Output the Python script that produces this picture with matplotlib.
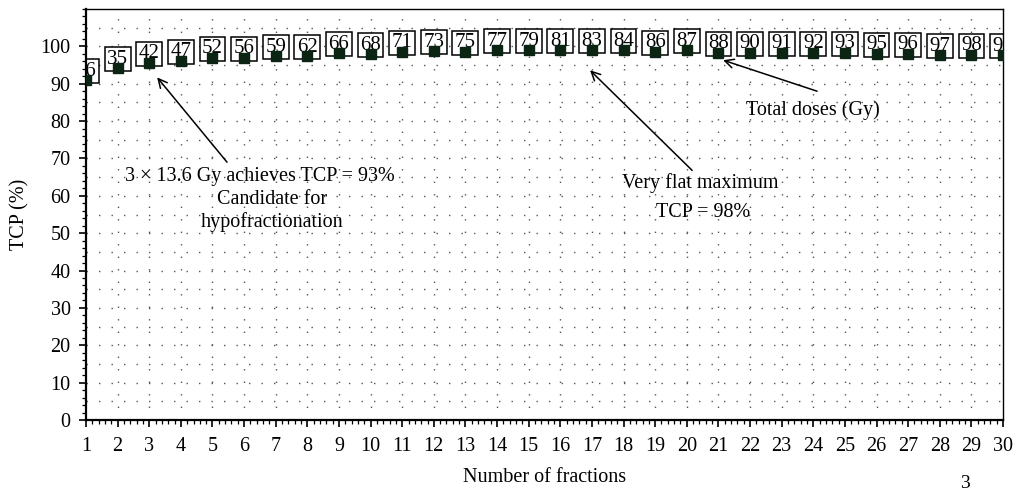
import numpy as np
import matplotlib
matplotlib.use("Agg")
import matplotlib.pyplot as plt

plt.rcParams['font.family'] = ['Liberation Serif', 'DejaVu Serif']

# data
fractions = list(range(1, 31))
tcp = [90.9, 94.1, 95.6, 96.1, 97.0, 97.0, 97.4, 97.4, 98.1, 97.9,
       98.5, 98.7, 98.5, 99.0, 98.9, 99.0, 99.0, 98.9, 98.6, 98.9,
       98.3, 98.3, 98.3, 98.3, 98.3, 98.0, 98.0, 97.6, 97.7, 97.6]
doses = [26, 35, 42, 47, 52, 56, 59, 62, 66, 68,
         71, 73, 75, 77, 79, 81, 83, 84, 86, 87,
         88, 90, 91, 92, 93, 95, 96, 97, 98, 99]

fig = plt.figure(figsize=(10.16, 4.9), dpi=100)
ax = fig.add_axes([86/1016, 1 - 420/490, 917/1016, 411/490])
ax.set_xlim(1, 30)
ax.set_ylim(0, 110)

# dotted grid
gridStyle = dict(color='#555555', linewidth=1.0, linestyle=(0, (1, 8)), zorder=0)
for gx in range(2, 30):
    ax.axvline(gx, **gridStyle)
for gy in range(5, 110, 5):
    ax.axhline(gy, **gridStyle)

ax.plot(fractions, tcp, linestyle='none', marker='s', markersize=7,
        color='#0b2414', zorder=3)

for f, t, d in zip(fractions, tcp, doses):
    ax.annotate(str(d), (f, t), xytext=(0, 9), textcoords='offset pixels',
                ha='center', va='center', fontsize=15, annotation_clip=False,
                clip_on=True, zorder=2,
                bbox=dict(boxstyle='square,pad=0.12', fc='white', ec='black', lw=1.1))

arrow = dict(arrowstyle='->', color='black', lw=1.1, mutation_scale=16, shrinkA=0, shrinkB=0)
ax.annotate('', xy=(3.25, 91.7), xytext=(5.46, 69.0), arrowprops=arrow)
ax.annotate('', xy=(16.94, 93.6), xytext=(20.17, 66.8), arrowprops=arrow)
ax.annotate('', xy=(21.15, 96.3), xytext=(24.12, 88.0), arrowprops=arrow)

txt = dict(fontsize=14.5, ha='center', va='center', zorder=4)
ax.text(6.5, 65.2, '3 \u00d7 13.6 Gy achieves TCP = 93%', **txt)
ax.text(6.88, 59.1, 'Candidate for', **txt)
ax.text(6.88, 52.9, 'hypofractionation', **txt)
ax.text(20.42, 63.3, 'Very flat maximum', **txt)
ax.text(20.51, 55.6, 'TCP = 98%', **txt)
ax.text(24.0, 82.9, 'Total doses (Gy)', **txt)

ax.set_xticks(range(1, 31))
ax.set_xticks(np.arange(1, 30.01, 0.2), minor=True)
ax.set_yticks(range(0, 101, 10))
ax.set_yticks(range(0, 111, 2), minor=True)
ax.tick_params(which='major', direction='out', length=5, width=1.2, labelsize=14.5, pad=6)
ax.tick_params(which='minor', direction='out', length=3, width=0.9)
ax.tick_params(axis='x', which='major', pad=7)

for s in ax.spines.values():
    s.set_linewidth(1.0)
ax.spines['left'].set_linewidth(1.6)
ax.spines['bottom'].set_linewidth(1.6)

ax.set_xlabel('Number of fractions', fontsize=14.5, labelpad=9)
ax.set_ylabel('TCP (%)', fontsize=14.5, labelpad=8)

fig.text(965/1016, 1 - 483/490, '3', fontsize=14, ha='center', va='center')

fig.savefig('out.png', dpi=100)
